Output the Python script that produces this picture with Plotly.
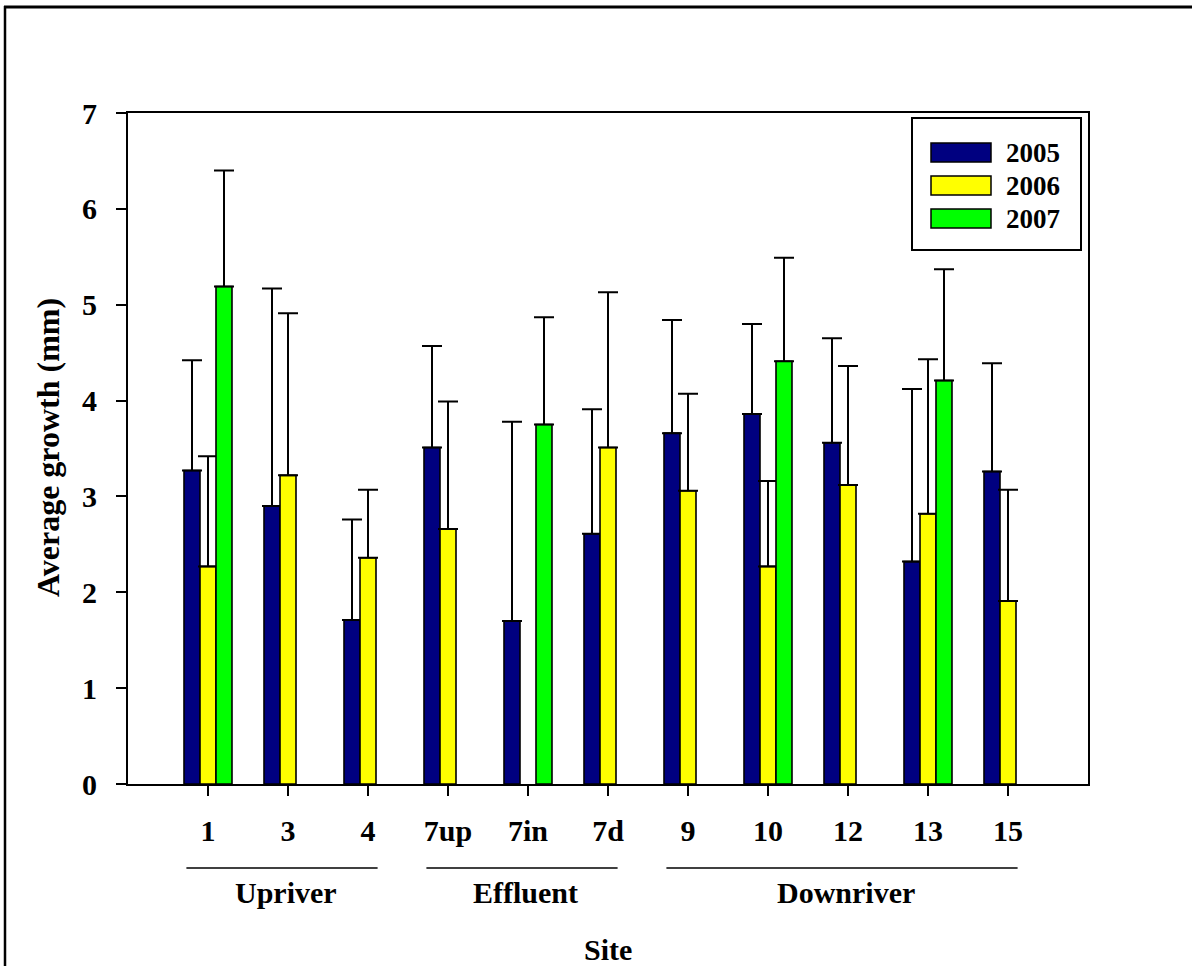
import plotly.graph_objects as go

# ---------------- data ----------------
sites = ["1", "3", "4", "7up", "7in", "7d", "9", "10", "12", "13", "15"]
years = ["2005", "2006", "2007"]
mean_2005 = [3.27, 2.90, 1.71, 3.51, 1.70, 2.61, 3.66, 3.86, 3.56, 2.32, 3.26]
mean_2006 = [2.27, 3.22, 2.36, 2.66, None, 3.51, 3.06, 2.27, 3.12, 2.82, 1.91]
mean_2007 = [5.19, None, None, None, 3.75, None, None, 4.41, None, 4.21, None]
err_2005 = [1.15, 2.27, 1.05, 1.06, 2.08, 1.30, 1.18, 0.94, 1.09, 1.80, 1.13]
err_2006 = [1.15, 1.69, 0.71, 1.33, None, 1.62, 1.01, 0.89, 1.24, 1.61, 1.16]
err_2007 = [1.21, None, None, None, 1.12, None, None, 1.08, None, 1.16, None]
colors = ["#000080", "#FFFF00", "#00FF00"]
groups = [("Upriver", 0, 2), ("Effluent", 3, 5), ("Downriver", 6, 10)]
y_ticks = [0, 1, 2, 3, 4, 5, 6, 7]

means = [mean_2005, mean_2006, mean_2007]
errs = [err_2005, err_2006, err_2007]

FONT = "Liberation Serif, Times New Roman, serif"
W, H = 1192, 966
L, R, T, B = 128, 1088, 113, 784  # plot area in px


def px(x):
    return (x - L) / (R - L)


def py(y):
    return (B - y) / (B - T)


fig = go.Figure()
for yr, m, e, c in zip(years, means, errs, colors):
    fig.add_trace(go.Bar(
        x=sites, y=m, name=yr,
        marker=dict(color=c, line=dict(color="black", width=1.6)),
        error_y=dict(type="data", array=e, arrayminus=[0] * len(e), symmetric=False,
                     color="black", thickness=2, width=10),
        showlegend=False,
    ))

shapes = []
annotations = []

# outer frame (top and left edges visible)
shapes.append(dict(type="line", xref="paper", yref="paper",
                   x0=px(4), x1=px(1195), y0=py(7), y1=py(7),
                   line=dict(color="black", width=3)))
shapes.append(dict(type="line", xref="paper", yref="paper",
                   x0=px(5), x1=px(5), y0=py(6), y1=py(970),
                   line=dict(color="black", width=2.5)))

# group lines and labels
for name, a, b in groups:
    shapes.append(dict(type="line", xref="x", yref="paper",
                       x0=a - 0.27, x1=b + 0.12, y0=py(868), y1=py(868),
                       line=dict(color="black", width=1.5)))
    annotations.append(dict(x=(a + b) / 2 - 0.03, y=py(893), xref="x", yref="paper",
                            text="<b>%s</b>" % name, showarrow=False,
                            xanchor="center", yanchor="middle",
                            font=dict(family=FONT, size=30, color="black")))

# custom legend
shapes.append(dict(type="rect", xref="paper", yref="paper",
                   x0=px(912), x1=px(1081), y0=py(118), y1=py(250),
                   line=dict(color="black", width=2), fillcolor="white", layer="above"))
for i, (yr, c) in enumerate(zip(years, colors)):
    top = 143 + i * 33
    shapes.append(dict(type="rect", xref="paper", yref="paper",
                       x0=px(931), x1=px(991), y0=py(top), y1=py(top + 19),
                       line=dict(color="black", width=1.5), fillcolor=c, layer="above"))
    annotations.append(dict(x=px(1004), y=py(top + 9.5), xref="paper", yref="paper",
                            text="<b>%s</b>" % yr, showarrow=False,
                            xanchor="left", yanchor="middle",
                            font=dict(family=FONT, size=27, color="black")))

# axis titles
annotations.append(dict(x=px(48), y=py(448), xref="paper", yref="paper",
                        text="<b>Average growth (mm)</b>", showarrow=False, textangle=-90,
                        xanchor="center", yanchor="middle",
                        font=dict(family=FONT, size=32, color="black")))
annotations.append(dict(x=0.5, y=py(950), xref="paper", yref="paper",
                        text="<b>Site</b>", showarrow=False,
                        xanchor="center", yanchor="middle",
                        font=dict(family=FONT, size=30, color="black")))

fig.update_layout(
    width=W, height=H,
    margin=dict(l=L, r=W - R, t=T, b=H - B, pad=0),
    paper_bgcolor="white", plot_bgcolor="white",
    barmode="group", bargap=0.4, bargroupgap=0,
    font=dict(family=FONT, size=30, color="black"),
    shapes=shapes, annotations=annotations,
    showlegend=False,
    xaxis=dict(type="category", range=[-1, 11], showgrid=False, zeroline=False,
               showline=True, linecolor="black", linewidth=2, mirror=True,
               ticks="outside", ticklen=10, tickwidth=2, tickcolor="black",
               tickfont=dict(family=FONT, size=30, color="black", weight="bold"),
               ticklabelstandoff=9),
    yaxis=dict(range=[0, 7], tickvals=y_ticks, showgrid=False, zeroline=False,
               showline=True, linecolor="black", linewidth=2, mirror=True,
               ticks="outside", ticklen=10, tickwidth=2, tickcolor="black",
               tickfont=dict(family=FONT, size=30, color="black", weight="bold"),
               ticklabelstandoff=13),
)

fig.write_html("out.html")
